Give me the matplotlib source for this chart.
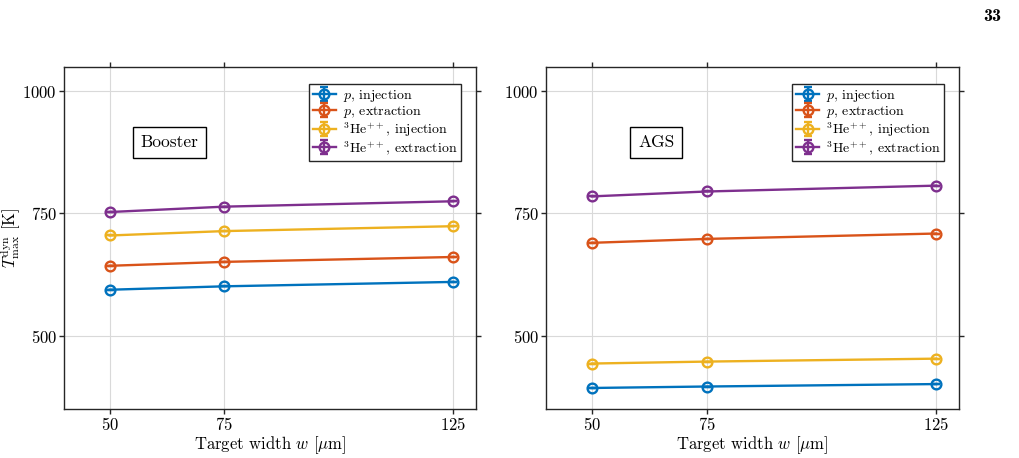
import matplotlib
matplotlib.use("Agg")
import matplotlib.pyplot as plt
import numpy as np

plt.rcParams['font.family'] = 'serif'
plt.rcParams['font.serif'] = ['cmr10', 'DejaVu Serif']
plt.rcParams['mathtext.fontset'] = 'cm'
plt.rcParams['axes.formatter.use_mathtext'] = True

widths = [50, 75, 125]
labels = [r'$p$, injection', r'$p$, extraction',
          r'$^{3}$He$^{++}$, injection', r'$^{3}$He$^{++}$, extraction']
colors = ['#0072BD', '#D95319', '#EDB120', '#7E2F8E']

booster_p_inj = [594, 601, 610]
booster_p_ext = [643, 651, 661]
booster_he_inj = [705, 714, 724]
booster_he_ext = [753, 764, 775]

ags_p_inj = [393, 396, 401]
ags_p_ext = [690, 698, 709]
ags_he_inj = [443, 447, 453]
ags_he_ext = [785, 795, 807]

panels = [
    ('Booster', [booster_p_inj, booster_p_ext, booster_he_inj, booster_he_ext]),
    ('AGS', [ags_p_inj, ags_p_ext, ags_he_inj, ags_he_ext]),
]

fig = plt.figure(figsize=(10.2, 4.58), dpi=100)
boxes = [[0.0627, 0.107, 0.404, 0.747], [0.5353, 0.107, 0.405, 0.747]]

for i, (name, series) in enumerate(panels):
    ax = fig.add_axes(boxes[i])
    for vals, lab, c in zip(series, labels, colors):
        ax.errorbar(widths, vals, yerr=np.zeros(len(vals)), color=c, lw=1.7,
                    marker='o', ms=7, mfc='none', mew=1.7, capsize=3,
                    label=lab)
    ax.set_xlim(40, 130)
    ax.set_ylim(350, 1050)
    ax.set_xticks(widths)
    ax.set_yticks([500, 750, 1000])
    ax.grid(True, color='#d9d9d9', lw=0.8)
    ax.set_axisbelow(True)
    ax.tick_params(direction='out', length=3.6, width=1.0, pad=1.5, top=True,
                   right=True, labelsize=12, color='#262626')
    for s in ax.spines.values():
        s.set_color('#262626')
        s.set_linewidth(1.0)
    ax.set_xlabel(r'Target width $w$ [$\mu$m]', fontsize=12, labelpad=1)
    if i == 0:
        ax.set_ylabel(r'$T^{\mathrm{dyn}}_{\mathrm{max}}$ [K]', fontsize=12)
        ax.yaxis.set_label_coords(-0.1, 0.5)
    ax.text(63 if i == 0 else 64, 896, name, fontsize=12.5, ha='center', va='center',
            bbox=dict(boxstyle='square,pad=0.45', fc='white', ec='black', lw=1.0))
    leg = ax.legend(loc='upper right', fontsize=10, fancybox=False,
                    edgecolor='#262626', framealpha=1, borderpad=0.3,
                    labelspacing=0.0, handlelength=1.6, handletextpad=0.5,
                    borderaxespad=0, bbox_to_anchor=(0.964, 0.95))
    leg.get_frame().set_linewidth(1.0)

fig.text(0.982, 0.965, '33', family='cmb10', fontsize=13, ha='right', va='center')

fig.savefig('out.png', dpi=100)
